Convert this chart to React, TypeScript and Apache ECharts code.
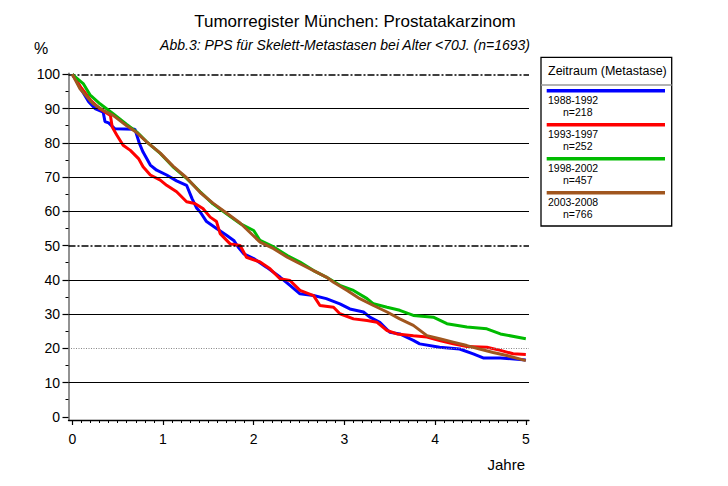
import React, { useEffect, useRef } from "react";
import * as echarts from "echarts";

const xTicks = [0, 1, 2, 3, 4, 5];
const yTicks = [0, 10, 20, 30, 40, 50, 60, 70, 80, 90, 100];
const yMinorTicks = [5, 15, 25, 35, 45, 55, 65, 75, 85, 95];
const xMinorTicks = Array.from({ length: 51 }, (_, i) => i / 10);

const periods = ["1988-1992", "1993-1997", "1998-2002", "2003-2008"];
const counts = ["n=218", "n=252", "n=457", "n=766"];

const surv1988 = [
  [0, 100], [0.05, 98], [0.1, 95.5], [0.18, 92], [0.25, 90], [0.34, 89], [0.36, 86.2], [0.4, 85.8],
  [0.47, 84.1], [0.69, 84], [0.74, 79.8], [0.78, 77.3], [0.86, 73.5], [0.93, 72],
  [1.04, 70.6], [1.15, 68.9], [1.26, 67.6], [1.32, 63.7], [1.37, 61], [1.41, 59.8], [1.48, 57], [1.59, 55],
  [1.7, 53], [1.78, 51.5], [1.83, 49.5], [1.89, 47.6], [2.0, 46.2], [2.14, 43.7], [2.29, 40.8], [2.4, 38.4],
  [2.51, 35.9], [2.66, 35.4], [2.8, 34.5], [2.95, 33], [3.06, 31.5], [3.21, 30.6], [3.28, 29.1], [3.39, 27.6],
  [3.5, 24.7], [3.61, 24.2], [3.76, 22.3], [3.83, 21.3], [4.05, 20.3], [4.27, 19.8], [4.42, 18.4], [4.53, 17.2],
  [4.72, 17.2], [5.0, 16.6],
];
const surv1993 = [
  [0, 100], [0.05, 98], [0.1, 96], [0.2, 92.5], [0.3, 90], [0.42, 88], [0.44, 84.6], [0.49, 82.3],
  [0.56, 79.3], [0.64, 77.8], [0.73, 75.4], [0.78, 73], [0.86, 70.6], [0.97, 69.1], [1.04, 67.6], [1.15, 65.7],
  [1.26, 62.8], [1.35, 62.3], [1.44, 60.8], [1.52, 58.3], [1.59, 57], [1.63, 53.5], [1.74, 50.5], [1.85, 50],
  [1.92, 46.6], [2.07, 45.2], [2.18, 43.2], [2.29, 40.3], [2.4, 39.8], [2.51, 36.9], [2.66, 35.4], [2.73, 32.5],
  [2.88, 32], [2.95, 30.1], [3.1, 28.6], [3.25, 28.1], [3.36, 27.6], [3.47, 25.2], [3.58, 24.2], [3.76, 23.7],
  [3.91, 23.3], [4.05, 22.3], [4.2, 21.3], [4.35, 20.5], [4.57, 20.3], [4.72, 19.4], [4.86, 18.4], [5.0, 18.2],
];
const surv1998 = [
  [0, 100], [0.12, 97.3], [0.195, 94], [0.305, 91.4], [0.45, 88.5], [0.6, 85.4], [0.71, 83.2], [0.82, 80.3],
  [0.97, 76.9], [1.11, 73], [1.26, 69.6], [1.41, 65.7], [1.55, 62.2], [1.7, 59.3], [1.85, 56.4], [2.0, 54.4],
  [2.07, 51.5], [2.22, 49.6], [2.37, 47.1], [2.51, 45.2], [2.66, 42.7], [2.8, 40.8], [2.95, 38.4], [3.1, 36.9],
  [3.25, 34.5], [3.32, 33], [3.47, 32], [3.61, 31.1], [3.76, 29.6], [3.98, 29.1], [4.13, 27.2], [4.35, 26.2],
  [4.57, 25.7], [4.72, 24.2], [5.0, 22.8],
];
const surv2003 = [
  [0, 100], [0.085, 95.8], [0.195, 92.4], [0.23, 91.4], [0.34, 89.5], [0.45, 88], [0.6, 85], [0.71, 83], [0.82, 80.3],
  [0.97, 77], [1.11, 73.2], [1.26, 69.8], [1.41, 65.5], [1.55, 62.4], [1.7, 59.5], [1.85, 56.6], [2.07, 51],
  [2.22, 49.1], [2.37, 46.6], [2.51, 44.7], [2.66, 42.7], [2.8, 40.8], [2.88, 39.3], [3.03, 36.9], [3.17, 34.5],
  [3.32, 32.5], [3.47, 30.6], [3.61, 28.6], [3.76, 26.7], [3.91, 23.7], [4.05, 22.8], [4.2, 21.8], [4.35, 20.8],
  [4.49, 19.8], [4.64, 18.8], [4.79, 17.9], [5.0, 16.4],
];

const seriesData = [surv1988, surv1993, surv1998, surv2003];
const seriesColors = ["#0000ff", "#ff0000", "#00bb00", "#a0561e"];

const FONT = "Liberation Sans, Arial, Helvetica, sans-serif";

const gridLines = [
  { y: 10, kind: "solid" },
  { y: 20, kind: "gray" },
  { y: 30, kind: "solid" },
  { y: 40, kind: "solid" },
  { y: 50, kind: "dashdot" },
  { y: 60, kind: "solid" },
  { y: 70, kind: "solid" },
  { y: 80, kind: "solid" },
  { y: 90, kind: "solid" },
  { y: 100, kind: "dashdot" },
];

function lineStyleFor(kind: string) {
  if (kind === "dashdot") return { color: "#000", width: 1.5, type: [7, 2, 2, 2] };
  if (kind === "gray") return { color: "#888", width: 1.2, type: [1, 1.5] };
  return { color: "#000", width: 1.2, type: "solid" };
}

export default function App() {
  const ref = useRef<HTMLDivElement>(null);
  useEffect(() => {
    document.body.style.margin = "0";
    if (!ref.current) return;
    const chart = echarts.init(ref.current, null, { renderer: "svg" });
    const xMin = -0.042, xMax = 5.035, yMin = -0.93, yMax = 100.3;
    const legendX = 541, legendY = 57.3;
    const graphic: any[] = [
      {
        type: "text", x: 355, y: 21,
        style: { text: "Tumorregister München: Prostatakarzinom", fontSize: 17, fontFamily: FONT, fill: "#000", textAlign: "center", textVerticalAlign: "middle" },
      },
      {
        type: "text", x: 530, y: 45,
        style: { text: "Abb.3: PPS für Skelett-Metastasen bei Alter <70J. (n=1693)", fontSize: 14, fontStyle: "italic", fontFamily: FONT, fill: "#000", textAlign: "right", textVerticalAlign: "middle" },
      },
      {
        type: "text", x: 41, y: 48,
        style: { text: "%", fontSize: 16, fontFamily: FONT, fill: "#000", textAlign: "center", textVerticalAlign: "middle" },
      },
      {
        type: "text", x: 525, y: 464,
        style: { text: "Jahre", fontSize: 15, fontFamily: FONT, fill: "#000", textAlign: "right", textVerticalAlign: "middle" },
      },
      {
        type: "rect", shape: { x: legendX, y: legendY, width: 130.7, height: 168.7 },
        style: { fill: "none", stroke: "#000", lineWidth: 1.3 },
      },
      {
        type: "text", x: 548, y: 70.7,
        style: { text: "Zeitraum (Metastase)", fontSize: 12.5, fontFamily: FONT, fill: "#000", textAlign: "left", textVerticalAlign: "middle" },
      },
      {
        type: "line", shape: { x1: legendX, y1: 85, x2: legendX + 130.7, y2: 85 },
        style: { stroke: "#999", lineWidth: 1.5 },
      },
    ];
    periods.forEach((p, i) => {
      const by = 90.7 + 34 * i;
      graphic.push({
        type: "line", shape: { x1: 546.7, y1: by, x2: 665, y2: by },
        style: { stroke: seriesColors[i], lineWidth: 3.5 },
      });
      graphic.push({
        type: "text", x: 548, y: by + 9.3,
        style: { text: p, fontSize: 10.5, lineHeight: 10, fontFamily: FONT, fill: "#000", textAlign: "left", textVerticalAlign: "middle" },
      });
      graphic.push({
        type: "text", x: 563, y: by + 21.3,
        style: { text: counts[i], fontSize: 10.5, lineHeight: 10, fontFamily: FONT, fill: "#000", textAlign: "left", textVerticalAlign: "middle" },
      });
    });

    const option: any = {
      animation: false,
      grid: { left: 68.5, top: 73.3, width: 460.5, height: 346.7, containLabel: false, outerBoundsMode: "none" },
      xAxis: [
        {
          type: "value", min: xMin, max: xMax, position: "bottom",
          axisLine: { show: true, onZero: false, lineStyle: { color: "#000", width: 1.3 } },
          axisTick: { show: true, customValues: xTicks, length: 5, lineStyle: { color: "#000", width: 1.2 } },
          axisLabel: { show: true, customValues: xTicks, fontSize: 14, color: "#000", margin: 12, fontFamily: FONT },
          splitLine: { show: false },
        },
        {
          type: "value", min: xMin, max: xMax, position: "bottom",
          axisLine: { show: false, onZero: false },
          axisTick: { show: true, customValues: xMinorTicks, length: 3, lineStyle: { color: "#000", width: 1 } },
          axisLabel: { show: false },
          splitLine: { show: false },
        },
      ],
      yAxis: [
        {
          type: "value", min: yMin, max: yMax, position: "left",
          axisLine: { show: true, onZero: false, lineStyle: { color: "#777", width: 1.6 } },
          axisTick: { show: true, customValues: yTicks, length: 6, lineStyle: { color: "#000", width: 1.2 } },
          axisLabel: { show: true, customValues: yTicks, fontSize: 14, color: "#000", margin: 8.5, fontFamily: FONT },
          splitLine: { show: false },
        },
        {
          type: "value", min: yMin, max: yMax, position: "left",
          axisLine: { show: false, onZero: false },
          axisTick: { show: true, customValues: yMinorTicks, length: 3, lineStyle: { color: "#000", width: 1 } },
          axisLabel: { show: false },
          splitLine: { show: false },
        },
      ],
      series: [
        {
          type: "line", data: [], xAxisIndex: 0, yAxisIndex: 0, z: 1, silent: true,
          markLine: {
            silent: true, symbol: "none", animation: false,
            label: { show: false },
            data: gridLines.map((g) => ({ yAxis: g.y, lineStyle: lineStyleFor(g.kind) })),
          },
        },
        ...seriesData.map((d, i) => ({
          type: "line", name: periods[i], data: d, xAxisIndex: 0, yAxisIndex: 0, z: 3 + i,
          showSymbol: false, symbol: "none",
          lineStyle: { color: seriesColors[i], width: 3 },
          itemStyle: { color: seriesColors[i] },
        })),
      ],
      graphic,
    };
    chart.setOption(option);
    return () => chart.dispose();
  }, []);
  return <div ref={ref} style={{ width: 728, height: 486 }} />;
}
